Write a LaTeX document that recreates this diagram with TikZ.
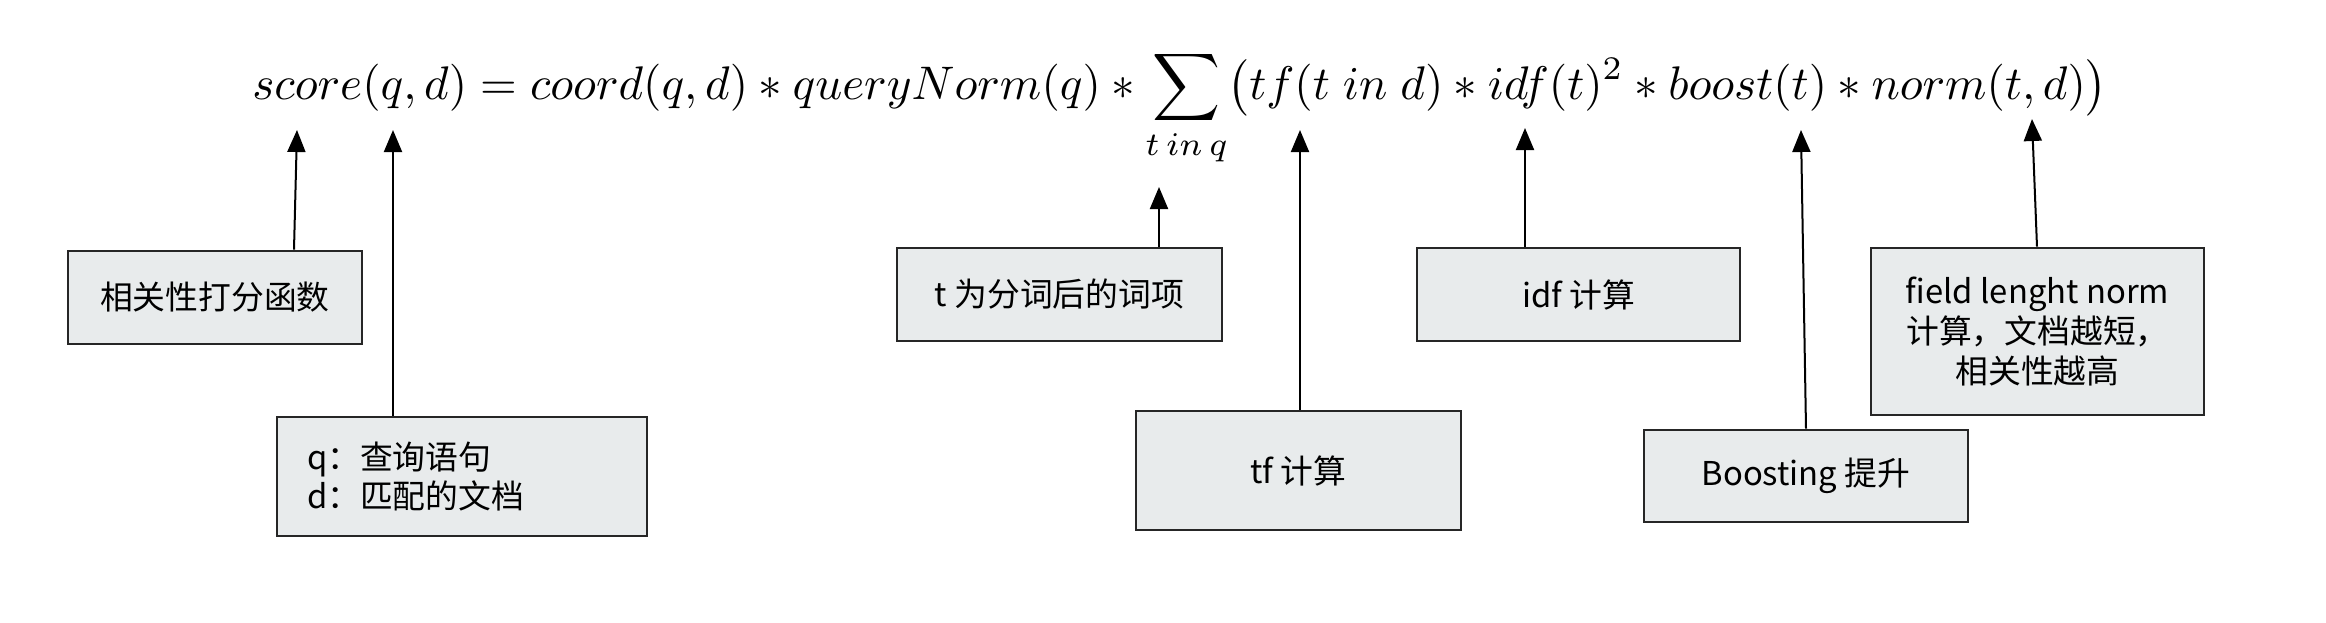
\documentclass[tikz,border=0pt]{standalone}
\usepackage{fontspec}
\usepackage{graphicx}
\newfontfamily\cjk{Noto Sans CJK SC}
\usetikzlibrary{arrows.meta,calc}
\definecolor{boxfill}{RGB}{232,235,236}
\definecolor{boxline}{RGB}{38,38,38}
\begin{document}
\begin{tikzpicture}[x=0.5pt,y=-0.5pt,
  lbox/.style={draw=boxline,fill=boxfill,line width=1.4pt,inner sep=0pt,
    font=\fontsize{16.4pt}{19.8pt}\selectfont\cjk,align=center},
  arr/.style={line width=1pt,draw=black,-{Triangle[width=9pt,length=11pt]}}]
\useasboundingbox (0,0) rectangle (2326,622);
% formula
\node[anchor=west,inner sep=0pt] (f) at (252,108)
  {\resizebox{927.5pt}{!}{$\displaystyle score(q,d) = coord(q,d) \ast queryNorm(q) \ast \sum_{t\,in\,q} \bigl(tf(t\;in\;d) \ast idf(t)^2 \ast boost(t) \ast norm(t,d)\bigr)$}};
% tips
\coordinate (t1) at (297,130);
\coordinate (t2) at (393,130);
\coordinate (t3) at (1159,187);
\coordinate (t4) at (1300,130);
\coordinate (t5) at (1525,128);
\coordinate (t6) at (1801,130);
\coordinate (t7) at (2032,119);
% boxes
\node[lbox,minimum width=147pt,minimum height=46.5pt] (b1) at (215,297.5) {相关性打分函数};
\node[lbox,minimum height=59.5pt,text width=155pt,inner xsep=15pt,align=left] (b2) at (462,476.5) {q：查询语句\\d：匹配的文档};
\node[lbox,minimum width=162.5pt,minimum height=46.5pt] (b3) at (1059.5,294.5) {t 为分词后的词项};
\node[lbox,minimum width=162.5pt,minimum height=59.5pt] (b4) at (1298.5,470.5) {tf 计算};
\node[lbox,minimum width=161.5pt,minimum height=46.5pt] (b5) at (1578.5,294.5) {idf 计算};
\node[lbox,minimum width=162pt,minimum height=46pt] (b6) at (1806,476) {Boosting 提升};
\node[lbox,minimum width=166.5pt,minimum height=83.5pt] (b7) at (2037.5,331.5) {field lenght norm\\计算，文档越短，\\相关性越高};
% arrows
\draw[arr] ($(b1.north)+(79,0)$) -- (t1);
\draw[arr] ($(b2.north)+(-69,0)$) -- (t2);
\draw[arr] ($(b3.north)+(99.5,0)$) -- (t3);
\draw[arr] ($(b4.north)+(1.5,0)$) -- (t4);
\draw[arr] ($(b5.north)+(-53.5,0)$) -- (t5);
\draw[arr] ($(b6.north)+(0,0)$) -- (t6);
\draw[arr] ($(b7.north)+(-0.5,0)$) -- (t7);
\end{tikzpicture}
\end{document}
